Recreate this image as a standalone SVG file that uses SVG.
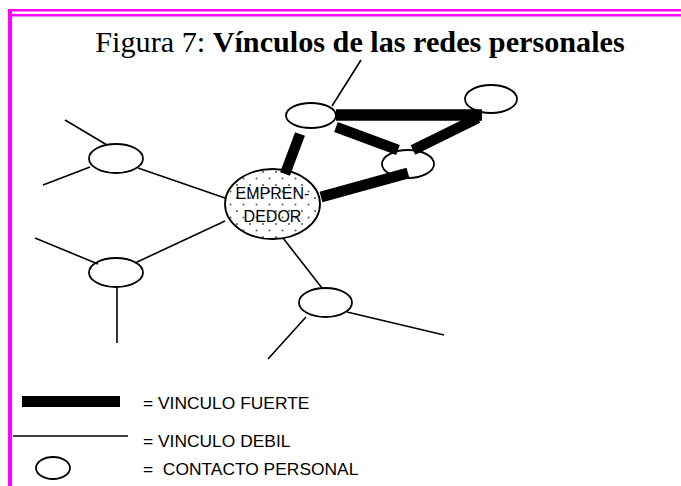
<svg xmlns="http://www.w3.org/2000/svg" width="681" height="486" viewBox="0 0 681 486">
<style>
.node{fill:#fff;stroke:#000;stroke-width:1.8}
.thin{stroke:#000;stroke-width:1.6;fill:none}
.thick{stroke:#000;stroke-width:10.5;stroke-linecap:butt;fill:none}
.lbl{font-family:"Liberation Sans",Arial,sans-serif;font-size:16px;fill:#000}
.leg{font-family:"Liberation Sans",Arial,sans-serif;font-size:17.4px;fill:#000;white-space:pre}
.title{font-family:"Liberation Serif","Times New Roman",serif;font-size:30.2px;fill:#000}
.border{fill:#FF00FF}
</style>
<defs>
<pattern id="dots" width="13" height="13" patternUnits="userSpaceOnUse">
<rect width="13" height="13" fill="#fff"/>
<circle cx="3" cy="3" r="1" fill="#555"/>
<circle cx="9.5" cy="9.5" r="1" fill="#555"/>
</pattern>
</defs>
<rect width="681" height="486" fill="#fff"/>
<g id="border">
<rect class="border" x="8" y="9" width="673" height="2.5"/>
<rect class="border" x="12" y="14" width="669" height="2.5"/>
<rect class="border" x="8" y="9" width="4" height="477"/>
</g>
<text class="title" x="360" y="52" text-anchor="middle">Figura 7: <tspan font-weight="bold">Vínculos de las redes personales</tspan></text>
<g id="n-emprendedor">
<ellipse class="node" cx="272.5" cy="204" rx="47.5" ry="35" style="fill:url(#dots)"/>
<text class="lbl" x="272.5" y="199" text-anchor="middle">EMPREN-</text>
<text class="lbl" x="272.5" y="222" text-anchor="middle">DEDOR</text>
</g>
<g id="n1"><ellipse class="node" cx="311" cy="115.5" rx="25" ry="12.5"/></g>
<g id="n2"><ellipse class="node" cx="491" cy="99" rx="26" ry="14"/></g>
<g id="n3"><ellipse class="node" cx="408" cy="164" rx="26" ry="14"/></g>
<g id="n4"><ellipse class="node" cx="116" cy="158.5" rx="27" ry="14.5"/></g>
<g id="n5"><ellipse class="node" cx="116" cy="272.5" rx="27" ry="14.5"/></g>
<g id="n6"><ellipse class="node" cx="325.5" cy="302.5" rx="26.5" ry="14.5"/></g>
<g id="connectors">
<line class="thin" x1="332" y1="106" x2="361" y2="60"/>
<line class="thin" x1="65" y1="120" x2="107" y2="145"/>
<line class="thin" x1="43" y1="185" x2="90" y2="167"/>
<line class="thin" x1="138" y1="168" x2="225" y2="198"/>
<line class="thin" x1="35" y1="238" x2="98" y2="264"/>
<line class="thin" x1="135" y1="263" x2="225" y2="221"/>
<line class="thin" x1="117" y1="287" x2="117" y2="343"/>
<line class="thin" x1="283" y1="238" x2="322" y2="288"/>
<line class="thin" x1="347" y1="312" x2="444" y2="335"/>
<line class="thin" x1="306" y1="317" x2="268" y2="359"/>
<line class="thick" x1="336" y1="115" x2="482" y2="115" style="stroke-width:11.5"/>
<line class="thick" x1="478" y1="118" x2="413" y2="150"/>
<line class="thick" x1="336" y1="127" x2="398" y2="150"/>
<line class="thick" x1="300" y1="134" x2="285" y2="174"/>
<line class="thick" x1="321" y1="197" x2="408" y2="173" style="stroke-width:11"/>
</g>
<g id="legend">
<rect x="22" y="396" width="98" height="11" fill="#000"/>
<text class="leg" x="143" y="409">= VINCULO FUERTE</text>
<line class="thin" x1="13" y1="436" x2="128" y2="436"/>
<text class="leg" x="143" y="447">= VINCULO DEBIL</text>
<ellipse class="node" cx="53" cy="468" rx="17" ry="11"/>
<text class="leg" x="143" y="475" xml:space="preserve">=  CONTACTO PERSONAL</text>
</g>
</svg>
